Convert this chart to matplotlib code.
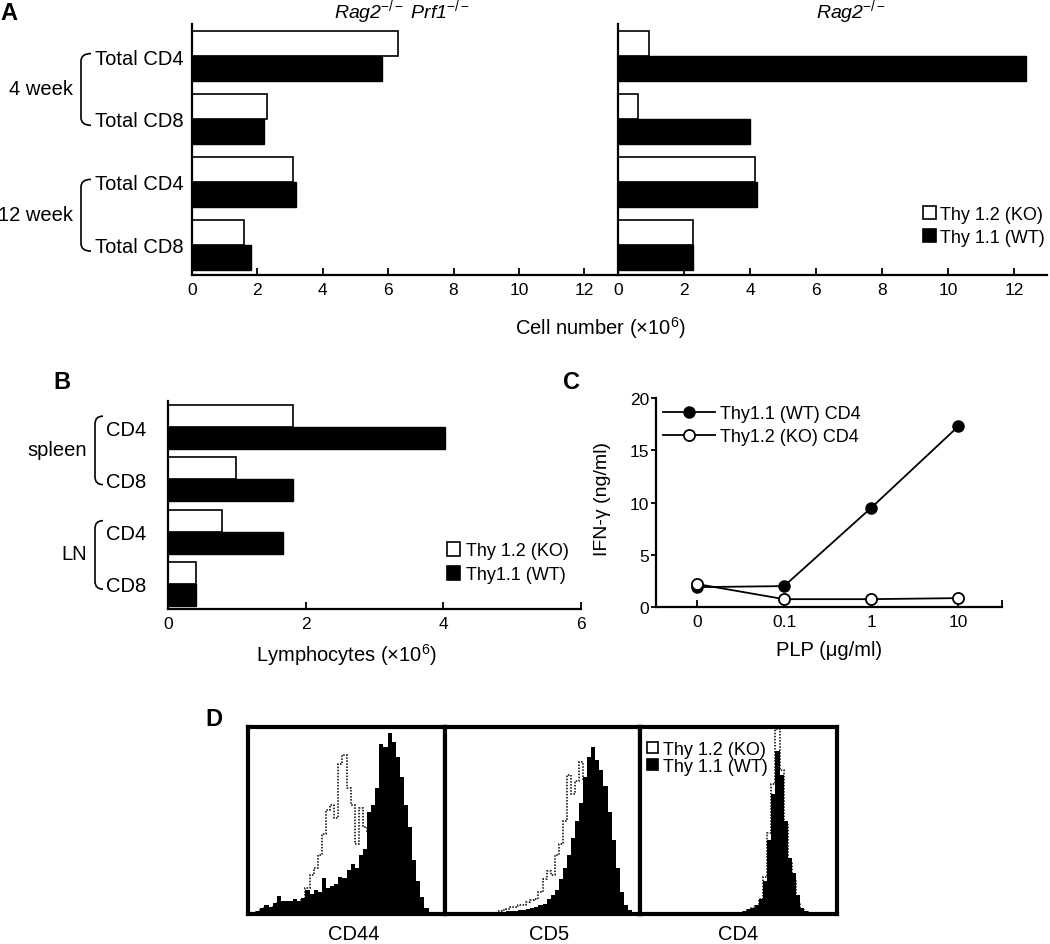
import matplotlib
matplotlib.use('Agg')
import matplotlib.pyplot as plt
import matplotlib.transforms as mtransforms
from matplotlib.patches import Patch, PathPatch
from matplotlib.lines import Line2D
from matplotlib.path import Path
import numpy as np

plt.rcParams['font.family'] = ['Liberation Sans', 'DejaVu Sans']
plt.rcParams['mathtext.fontset'] = 'custom'
plt.rcParams['mathtext.rm'] = 'Liberation Sans'
plt.rcParams['mathtext.it'] = 'Liberation Sans:italic'
plt.rcParams['mathtext.bf'] = 'Liberation Sans:bold'

# ---------------- data ----------------
a_categories = ['Total CD4', 'Total CD8', 'Total CD4', 'Total CD8']
a_groups = ['4 week', '12 week']
a_prf_ko = [6.3, 2.28, 3.09, 1.58]
a_prf_wt = [5.8, 2.21, 3.18, 1.79]
a_rag_ko = [0.94, 0.62, 4.14, 2.26]
a_rag_wt = [12.35, 4.0, 4.22, 2.27]
a_ticks = [0, 2, 4, 6, 8, 10, 12]
a_titles = [r'Rag2$^{\mathit{-/-}}$ Prf1$^{\mathit{-/-}}$', r'Rag2$^{\mathit{-/-}}$']
a_legend = ['Thy 1.2 (KO)', 'Thy 1.1 (WT)']

b_categories = ['CD4', 'CD8', 'CD4', 'CD8']
b_groups = ['spleen', 'LN']
b_ko = [1.81, 0.99, 0.79, 0.40]
b_wt = [4.02, 1.82, 1.67, 0.41]
b_ticks = [0, 2, 4, 6]
b_legend = ['Thy 1.2 (KO)', 'Thy1.1 (WT)']

c_doses = ['0', '0.1', '1', '10']
c_wt = [1.9, 2.0, 9.5, 17.3]
c_ko = [2.2, 0.75, 0.75, 0.85]
c_yticks = [0, 5, 10, 15, 20]
c_legend = ['Thy1.1 (WT) CD4', 'Thy1.2 (KO) CD4']

d_markers = ['CD44', 'CD5', 'CD4']
d_legend = ['Thy 1.2 (KO)', 'Thy 1.1 (WT)']
cd44_wt = [1, 0.5, 1.5, 3, 5, 4, 6, 9.5, 7, 7, 7, 8, 7, 8.5, 13, 11, 13, 12, 19.5, 14,
           15, 16, 20, 19.5, 24, 27, 25, 32, 35, 55, 59, 68, 92, 90, 98, 93, 85, 74, 59, 47,
           29, 18, 9, 3, 1, 0.7, 0.4, 0.2]
cd44_ko = [0.5, 0.3, 1, 2, 3, 3, 4, 6, 5, 5, 5, 6, 6, 8, 14, 21, 25, 32, 43, 56,
           59, 52, 81, 86, 68, 59, 38, 57, 47, 45, 40, 35, 30, 25, 20, 15, 11, 7, 4, 2,
           1, 0, 0, 0, 0, 0, 0, 0]
cd5_wt = [0, 0, 0.7, 1, 0.7, 0.5, 0, 0, 0, 0, 0, 0, 0.5, 1, 1.3, 1.6, 1.8, 1.8, 2.4, 2.2,
          2.8, 3, 3.7, 4.6, 5.5, 8, 10, 13, 19, 25, 32, 41, 50, 60, 74, 85, 90, 83, 78, 69,
          55, 40, 25, 12, 5, 2, 0.5, 0]
cd5_ko = [0, 0, 0.3, 0.5, 0.3, 0, 0, 0, 0, 0, 0, 0, 0.3, 1.8, 2.4, 2.8, 3.7, 3.7, 4.6, 5,
          6.4, 7.3, 8.3, 12, 19, 23, 21, 32, 38, 50, 75, 65, 72, 82, 72, 60, 50, 40, 30, 20,
          12, 6, 3, 1, 0, 0, 0, 0]
cd4_wt = [0, 0, 0, 0, 0, 0, 0, 0, 0, 0, 0, 0, 0, 0, 0, 0, 0, 0, 0, 0,
          0, 0, 0, 0, 0, 1.5, 2.5, 3.5, 5, 8, 18, 40, 65, 88, 75, 50, 30, 22, 10, 3,
          1.5, 0.5, 0, 0, 0, 0, 0, 0]
cd4_ko = [0, 0, 0, 0, 0, 0, 0, 0, 0, 0, 0, 0, 0, 0, 0, 0, 0, 0, 0, 0,
          0, 0, 0, 0, 0, 1, 2, 3, 4.5, 8, 20, 44, 70, 100, 78, 48, 28, 18, 6, 2,
          1, 0, 0, 0, 0, 0, 0, 0]

# ---------------- layout helpers ----------------
W, H = 1050, 945
fig = plt.figure(figsize=(W / 100, H / 100), dpi=100)


def rect(l, t, r, b):
    return [l / W, 1 - b / H, (r - l) / W, (b - t) / H]


def ftext(x, y, s, **kw):
    fig.text(x / W, 1 - y / H, s, **kw)


def bracket(ax, x_px, hook_px, y0, y1, r):
    trans = mtransforms.blended_transform_factory(fig.transFigure, ax.transData)
    x = x_px / W
    xh = (x_px + hook_px) / W
    verts = [(xh, y0), (x, y0), (x, y0 + r), (x, y1 - r), (x, y1), (xh, y1)]
    codes = [Path.MOVETO, Path.CURVE3, Path.CURVE3, Path.LINETO, Path.CURVE3, Path.CURVE3]
    p = PathPatch(Path(verts, codes), transform=trans, fill=False, lw=1.2,
                  edgecolor='black', clip_on=False)
    ax.add_artist(p)


def legend_at(ax, handles, labels, left, top, **kw):
    ax.legend(handles, labels, loc='upper left', bbox_to_anchor=(left / W, 1 - top / H),
              bbox_transform=fig.transFigure, borderpad=0, borderaxespad=0,
              frameon=False, **kw)


def hbars(ax, ko, wt, h):
    y = np.arange(len(ko))
    ax.barh(y - h / 2, ko, height=h, color='white', edgecolor='black', linewidth=1.2)
    ax.barh(y + h / 2, wt, height=h, color='black', edgecolor='black', linewidth=1.0)


def style_bar_axes(ax):
    for s in ['top', 'right']:
        ax.spines[s].set_visible(False)
    ax.spines['left'].set_linewidth(1.6)
    ax.spines['bottom'].set_linewidth(1.6)
    ax.tick_params(axis='x', direction='in', length=5, width=1.3, labelsize=12.5, pad=5)


# ---------------- Panel A ----------------
axA1 = fig.add_axes(rect(192, 25, 617, 276))
axA2 = fig.add_axes(rect(618, 25, 1047, 276))
for ax, ko, wt in [(axA1, a_prf_ko, a_prf_wt), (axA2, a_rag_ko, a_rag_wt)]:
    hbars(ax, ko, wt, 0.4)
    style_bar_axes(ax)
    ax.set_xlim(0, 13)
    ax.set_ylim(3.48, -0.51)
    ax.set_xticks(a_ticks)
    ax.set_xticklabels([str(t) for t in a_ticks])
axA1.set_yticks(range(len(a_categories)))
axA1.set_yticklabels(a_categories, fontsize=14.5)
axA1.tick_params(axis='y', length=0, pad=6)
axA2.set_yticks([])

for gi, g in enumerate(a_groups):
    y0 = 2 * gi - 0.04
    bracket(axA1, 81, 10, y0, y0 + 1.14, 0.12)
    axA1.text(73 / W, 2 * gi + 0.52, g, transform=mtransforms.blended_transform_factory(
        fig.transFigure, axA1.transData), ha='right', va='center', fontsize=14.5)

ftext(402, 12, a_titles[0], ha='center', va='center', fontsize=14, style='italic')
ftext(851, 12, a_titles[1], ha='center', va='center', fontsize=14, style='italic')
ftext(600, 328, r'Cell number ($\times$10$^{6}$)', ha='center', va='center', fontsize=14.5)

handlesA = [Patch(facecolor='white', edgecolor='black', lw=1.2),
            Patch(facecolor='black', edgecolor='black', lw=1.2)]
legend_at(axA2, handlesA, a_legend, 923, 207, fontsize=13, handlelength=0.72,
          handleheight=0.72, handletextpad=0.2, labelspacing=0.33)

# ---------------- Panel B ----------------
axB = fig.add_axes(rect(168, 402, 581, 610))
hbars(axB, b_ko, b_wt, 0.42)
style_bar_axes(axB)
axB.set_xlim(0, 6)
axB.set_ylim(3.48, -0.5)
axB.set_xticks(b_ticks)
axB.set_xticklabels([str(t) for t in b_ticks])
axB.set_yticks(range(len(b_categories)))
axB.set_yticklabels(b_categories, fontsize=14.5)
axB.tick_params(axis='y', length=0, pad=16)
for gi, g in enumerate(b_groups):
    y0 = 2 * gi - 0.21
    bracket(axB, 95, 8, y0, y0 + 1.31, 0.15)
    axB.text(87 / W, 2 * gi + 0.42, g, transform=mtransforms.blended_transform_factory(
        fig.transFigure, axB.transData), ha='right', va='center', fontsize=14.5)
ftext(346, 655, r'Lymphocytes ($\times$10$^{6}$)', ha='center', va='center', fontsize=14.5)
handlesB = [Patch(facecolor='white', edgecolor='black', lw=1.2),
            Patch(facecolor='black', edgecolor='black', lw=1.2)]
legend_at(axB, handlesB, b_legend, 447, 543, fontsize=13, handlelength=0.72,
          handleheight=0.8, handletextpad=0.33, labelspacing=0.39)

# ---------------- Panel C ----------------
axC = fig.add_axes(rect(656, 399, 1002, 608))
xc = np.arange(len(c_doses))
axC.plot(xc, c_wt, '-o', color='black', mfc='black', mec='black', ms=8, lw=1.3,
         clip_on=False, zorder=3)
axC.plot(xc, c_ko, '-o', color='black', mfc='white', mec='black', ms=8, mew=1.3, lw=1.3,
         clip_on=False, zorder=3)
axC.set_xlim(-0.47, 3.5)
axC.set_ylim(0, 20)
axC.set_xticks(xc)
axC.set_xticklabels(c_doses)
axC.set_xticks([3.5], minor=True)
axC.set_yticks(c_yticks)
axC.set_yticklabels([str(t) for t in c_yticks])
for s in ['top', 'right']:
    axC.spines[s].set_visible(False)
axC.spines['left'].set_linewidth(1.6)
axC.spines['bottom'].set_linewidth(1.6)
axC.tick_params(axis='x', which='both', direction='in', length=5, width=1.3,
                labelsize=12.5, pad=5)
axC.tick_params(axis='y', direction='out', length=3.5, width=1.3, labelsize=12.5, pad=1.5)
axC.set_ylabel('IFN-γ (ng/ml)', fontsize=14)
axC.yaxis.set_label_coords((611 - 656) / 346, 0.52)
ftext(829, 651, 'PLP (μg/ml)', ha='center', va='center', fontsize=14.5)
handlesC = [Line2D([], [], color='black', marker='o', mfc='black', ms=8, lw=1.3),
            Line2D([], [], color='black', marker='o', mfc='white', ms=8, mew=1.3, lw=1.3)]
legend_at(axC, handlesC, c_legend, 663, 406, fontsize=13, handlelength=2.9,
          handletextpad=0.28, labelspacing=0.33, numpoints=1)

# ---------------- Panel D ----------------
d_boxes = [(248, 728, 445, 915), (445, 728, 640, 915), (640, 728, 837, 915)]
d_label_x = [354, 549, 738]
d_wt = [cd44_wt, cd5_wt, cd4_wt]
d_ko = [cd44_ko, cd5_ko, cd4_ko]
axDs = []
for bx, wt, ko, name, lx in zip(d_boxes, d_wt, d_ko, d_markers, d_label_x):
    ax = fig.add_axes(rect(*bx))
    edges = np.arange(len(wt) + 1)
    ax.stairs(wt, edges, fill=True, color='black', zorder=2)
    ax.stairs(ko, edges, color='black', lw=1.1, linestyle=(0, (1, 1)), zorder=3)
    ax.set_xlim(0, len(wt))
    ax.set_ylim(0, 101)
    ax.set_xticks([])
    ax.set_yticks([])
    for s in ax.spines.values():
        s.set_linewidth(3)
    ftext(lx, 935, name, ha='center', va='center', fontsize=14.5)
    axDs.append(ax)
handlesD = [Patch(facecolor='white', edgecolor='black', lw=1.2),
            Patch(facecolor='black', edgecolor='black', lw=1.2)]
legend_at(axDs[2], handlesD, d_legend, 647, 742, fontsize=13, handlelength=0.6,
          handleheight=0.6, handletextpad=0.28, labelspacing=0.0)

# ---------------- panel letters ----------------
for letter, (x, y) in zip('ABCD', [(9, 13), (62, 383), (571, 383), (214, 720)]):
    ftext(x, y, letter, ha='center', va='center', fontsize=17, fontweight='bold')

fig.savefig('out.png', dpi=100)
